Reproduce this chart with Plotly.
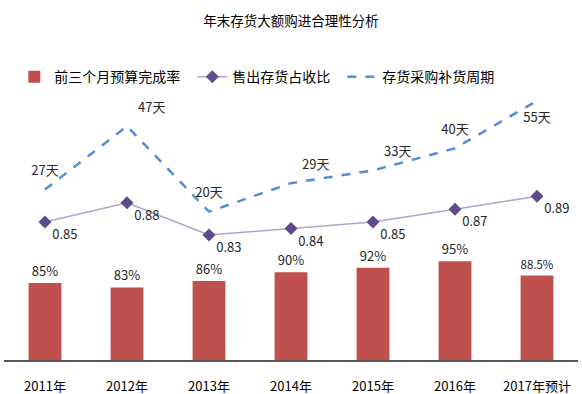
import plotly.graph_objects as go

years = ["2011年", "2012年", "2013年", "2014年", "2015年", "2016年", "2017年预计"]
budget_rate = [85, 83, 86, 90, 92, 95, 88.5]
budget_labels = ["85%", "83%", "86%", "90%", "92%", "95%", "88.5%"]
sales_ratio = [0.85, 0.88, 0.83, 0.84, 0.85, 0.87, 0.89]
sales_labels = ["0.85", "0.88", "0.83", "0.84", "0.85", "0.87", "0.89"]
cycle_days = [27, 47, 20, 29, 33, 40, 55]
cycle_labels = ["27天", "47天", "20天", "29天", "33天", "40天", "55天"]
cycle_pos = ["top center", "top right", "top center", "top right", "top right", "top center", "bottom center"]

FONT = "Noto Sans CJK SC, Noto Sans, sans-serif"

fig = go.Figure()
fig.add_trace(go.Bar(
    x=years, y=budget_rate, name="前三个月预算完成率\u2002",
    marker=dict(color="#C0504D", line=dict(width=0)),
    text=budget_labels, textposition="outside", cliponaxis=False,
    textfont=dict(size=13, color="#262626", family=FONT),
    yaxis="y",
))
fig.add_trace(go.Scatter(
    x=years, y=sales_ratio, name="售出存货占收比\u2002",
    mode="lines+markers+text",
    line=dict(color="#B3A2C7", width=1.5),
    marker=dict(symbol="diamond", size=10, color="#5F4B8B"),
    text=sales_labels, textposition="bottom right", cliponaxis=False,
    textfont=dict(size=13, color="#262626", family=FONT),
    yaxis="y2",
))
fig.add_trace(go.Scatter(
    x=years, y=cycle_days, name="存货采购补货周期", mode="lines+markers+text",
    line=dict(color="#558ED5", width=2.5, dash="dash"),
    marker=dict(size=16, color="rgba(0,0,0,0)", line=dict(width=0)),
    text=cycle_labels, textposition=cycle_pos, cliponaxis=False,
    textfont=dict(size=13, color="#262626", family=FONT),
    yaxis="y3",
))

fig.update_layout(
    width=582, height=394,
    margin=dict(l=4, r=4, t=90, b=34, autoexpand=False),
    paper_bgcolor="white", plot_bgcolor="white",
    font=dict(family=FONT, color="#000000"),
    title=dict(text="年末存货大额购进合理性分析", x=0.5, xanchor="center",
               y=1 - 21 / 394, yanchor="middle", yref="container",
               font=dict(size=13.5, color="#000000", family=FONT)),
    bargap=0.6,
    showlegend=True,
    legend=dict(orientation="h", x=0.018, xanchor="left", y=1.048, yanchor="middle",
                font=dict(size=14, color="#000000", family=FONT),
                bgcolor="rgba(0,0,0,0)", itemwidth=30, traceorder="normal"),
    xaxis=dict(showgrid=False, zeroline=False, showline=True, linecolor="#595959", linewidth=1.5,
               automargin=False,
               ticks="outside", ticklen=14, tickcolor="rgba(0,0,0,0)",
               tickfont=dict(size=13, color="#000000", family=FONT)),
    yaxis=dict(range=[49.7, 173.6], visible=False, showgrid=False, zeroline=False, automargin=False),
    yaxis2=dict(range=[0.636, 1.055], visible=False, overlaying="y", showgrid=False, zeroline=False, automargin=False),
    yaxis3=dict(range=[-26.84, 58.41], visible=False, overlaying="y", showgrid=False, zeroline=False, automargin=False),
)

fig.write_html("out.html", config={"displayModeBar": False},
               post_script="document.body.style.margin='0';document.body.style.overflow='hidden';")
